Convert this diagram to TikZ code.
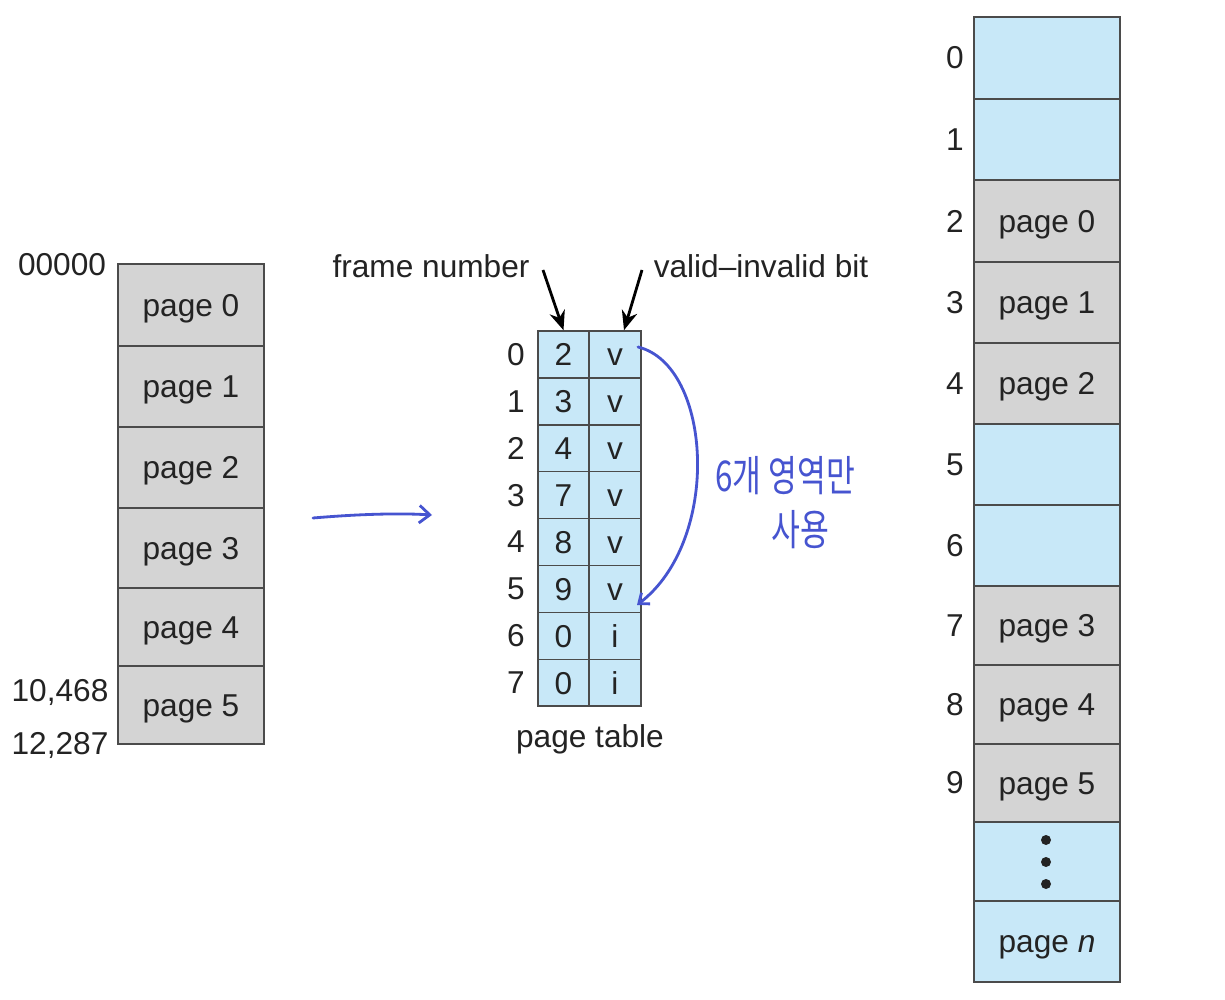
\documentclass[tikz,border=0pt]{standalone}
\usepackage{fontspec}
\setmainfont{Liberation Sans}
\newfontfamily\kofont{Noto Sans CJK KR}
\usetikzlibrary{arrows.meta,calc}
\definecolor{cellblue}{RGB}{200,232,248}
\definecolor{cellgray}{RGB}{212,212,212}
\definecolor{linegray}{RGB}{75,75,75}
\definecolor{pen}{RGB}{70,84,208}
\definecolor{txt}{RGB}{35,35,35}
\begin{document}
\begin{tikzpicture}[x=0.02cm,y=-0.02cm,
  lbl/.style={font=\fontsize{18}{20}\selectfont, text=txt, inner sep=0pt},
  memcell/.style={draw=linegray, line width=0.9pt, minimum width=2.92cm, inner sep=0pt, text height=12.9pt, text depth=0pt, font=\fontsize{18}{20}\selectfont, text=txt},
  graycell/.style={memcell, fill=cellgray},
  bluecell/.style={memcell, fill=cellblue},
  ptcell/.style={draw=linegray, line width=0.9pt, fill=cellblue, minimum width=1.03cm, minimum height=0.938cm, inner sep=0pt, text height=12.9pt, text depth=0pt, font=\fontsize{18}{20}\selectfont, text=txt},
  ptarrow/.style={draw=black, line width=1.6pt, -{Stealth[length=11pt,width=9pt]}},
  penline/.style={draw=pen, line width=1.6pt, line cap=round},
  pentext/.style={text=pen, font=\kofont\fontsize{21}{24}\selectfont, inner sep=0pt, xscale=0.85, yscale=1.15}
]
\useasboundingbox (0,0) rectangle (1225,1000);
\fill[white] (0,0) rectangle (1225,1000);

% logical memory
\foreach \i/\t/\b in {0/264/346,1/346/427,2/427/508,3/508/588,4/588/666,5/666/744} {
  \pgfmathsetmacro\cy{(\t+\b)/2}
  \pgfmathsetmacro\hh{(\b-\t)*0.02}
  \node[graycell, minimum height=\hh cm] (L\i) at (191,\cy) {page \i};
}
\node[lbl] (a0) at (62,265) {00000};
\node[lbl] (a1) at (60,692) {10,468};
\node[lbl] (a2) at (60,745) {12,287};

% page table
\foreach \i/\f/\v in {0/2/v,1/3/v,2/4/v,3/7/v,4/8/v,5/9/v,6/0/i,7/0/i} {
  \node[ptcell] (F\i) at (563.5,{331+46.9*(\i+0.5)}) {\f};
  \node[ptcell] (V\i) at (615,{331+46.9*(\i+0.5)}) {\v};
  \node[lbl] (I\i) at (516,{331+46.9*(\i+0.5)}) {\i};
}
\node[lbl] (ptl) at (590,739) {page table};
\node[lbl] (fn) at (431,266) {frame number};
\node[lbl] (vb) at (761,266) {valid--invalid bit};
\coordinate (fns) at (543,270);
\coordinate (vbs) at (642,270);
\draw[ptarrow] (fns) -- (F0.north);
\draw[ptarrow] (vbs) -- ($(V0.north)+(9,0)$);

% physical memory
\foreach \i/\s/\t/\tp/\bt in {0/bluecell//17/99,1/bluecell//99/180,2/graycell/page 0/180/262,3/graycell/page 1/262/343,4/graycell/page 2/343/424,5/bluecell//424/505,6/bluecell//505/586,7/graycell/page 3/586/665,8/graycell/page 4/665/744,9/graycell/page 5/744/822} {
  \pgfmathsetmacro\cy{(\tp+\bt)/2}
  \pgfmathsetmacro\hh{(\bt-\tp)*0.02}
  \node[\s, minimum height=\hh cm] (P\i) at (1047,\cy) {\t};
  \node[lbl] (N\i) at (955,\cy) {\i};
}
\node[bluecell, minimum height=1.58cm] (Pdots) at (1047,861.5) {};
\node[bluecell, minimum height=1.62cm] (Pn) at (1047,941.5) {page \textit{n}};
\fill[txt] (1046,840) circle (5);
\fill[txt] (1046,862) circle (5);
\fill[txt] (1046,884) circle (5);

% handwritten annotations
\coordinate (h1) at (313,518);
\coordinate (h2) at (432,515);
\draw[penline, -{Straight Barb[length=6pt,width=10pt,line width=1.6pt]}] (h1) .. controls (360,514) and (400,513) .. (h2);
\coordinate (c1) at (638,347);
\coordinate (c2) at (637,605);
\draw[penline, -{Straight Barb[length=5pt,width=8pt,line width=1.6pt]}] (c1) .. controls (712,365) and (722,540) .. (c2);
\node[pentext] (k1) at (785,476) {6개 영역만};
\node[pentext] (k2) at (800,530) {사용};
\end{tikzpicture}
\end{document}
